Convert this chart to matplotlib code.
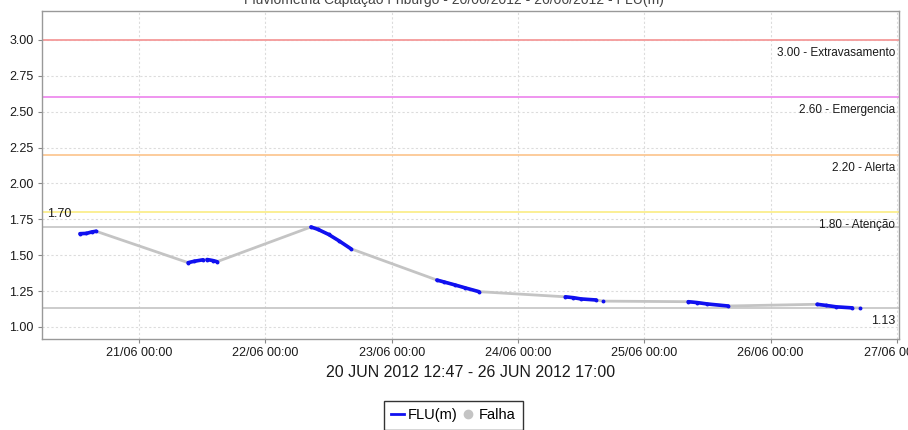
import matplotlib
matplotlib.use('Agg')
import matplotlib.dates as md
import matplotlib.pyplot as plt
import matplotlib.transforms as mtransforms
from matplotlib.lines import Line2D
import pandas as pd

# FLU(m) readings, one list per stretch of valid data
seg_times = [
    ["2012-06-20 12:47", "2012-06-20 14:00", "2012-06-20 15:00", "2012-06-20 15:50"],
    ["2012-06-21 09:20", "2012-06-21 10:30", "2012-06-21 12:10"],
    ["2012-06-21 12:55", "2012-06-21 14:00", "2012-06-21 14:50"],
    ["2012-06-22 08:40", "2012-06-22 10:00", "2012-06-22 12:00", "2012-06-22 14:00", "2012-06-22 16:15"],
    ["2012-06-23 08:35", "2012-06-23 10:00", "2012-06-23 12:00", "2012-06-23 14:00", "2012-06-23 16:35"],
    ["2012-06-24 09:00", "2012-06-24 10:30", "2012-06-24 12:00", "2012-06-24 14:50"],
    ["2012-06-24 16:10"],
    ["2012-06-25 08:20", "2012-06-25 10:00", "2012-06-25 12:00", "2012-06-25 15:55"],
    ["2012-06-26 08:50", "2012-06-26 10:30", "2012-06-26 12:30", "2012-06-26 15:30"],
    ["2012-06-26 17:00"],
]
seg_values = [
    [1.65, 1.652, 1.662, 1.667],
    [1.448, 1.458, 1.468],
    [1.47, 1.463, 1.455],
    [1.697, 1.68, 1.645, 1.60, 1.545],
    [1.327, 1.313, 1.293, 1.272, 1.246],
    [1.21, 1.204, 1.195, 1.188],
    [1.18],
    [1.176, 1.170, 1.160, 1.146],
    [1.158, 1.150, 1.140, 1.133],
    [1.132],
]

# alert levels
level_values = [3.00, 2.60, 2.20, 1.80]
level_names = ["Extravasamento", "Emergencia", "Alerta", "Atenção"]
level_colors = ["#f59a9a", "#ee8cee", "#fcc894", "#fbee8c"]
max_value = 1.70
min_value = 1.13

title = "Fluviometria Captação Friburgo - 20/06/2012 - 26/06/2012 - FLU(m)"
period = "20 JUN 2012 12:47 - 26 JUN 2012 17:00"

plt.rcParams['font.family'] = ['Liberation Sans', 'DejaVu Sans']
TXT = "#1a1a1a"

fig = plt.figure(figsize=(9.08, 4.30), dpi=100)
ax = fig.add_axes([42 / 908, 1 - 339 / 430, 857 / 908, 328 / 430])

# gray "Falha" line joins all the readings
all_t = pd.to_datetime([t for seg in seg_times for t in seg])
all_v = [v for seg in seg_values for v in seg]
ax.plot(all_t, all_v, color="#c4c4c4", linewidth=2, zorder=3)

for ts, vs in zip(seg_times, seg_values):
    ax.plot(pd.to_datetime(ts), vs, color="#1010f0", linewidth=2.6,
            marker="o", markersize=1.8, zorder=4, solid_capstyle="round")

blend = mtransforms.blended_transform_factory(ax.transAxes, ax.transData)
for val, name, col in zip(level_values, level_names, level_colors):
    ax.axhline(val, color=col, linewidth=1.3, zorder=2)
    ax.annotate(f"{val:.2f} - {name}", xy=(1, val), xycoords=blend,
                xytext=(-4, -13), textcoords="offset pixels",
                ha="right", va="center", fontsize=8.5, color=TXT)

ax.axhline(max_value, color="#c8c8c8", linewidth=1.3, zorder=2)
ax.annotate(f"{max_value:.2f}", xy=(0, max_value), xycoords=blend,
            xytext=(5, 13), textcoords="offset pixels",
            ha="left", va="center", fontsize=9, color=TXT)
ax.axhline(min_value, color="#c8c8c8", linewidth=1.3, zorder=2)
ax.annotate(f"{min_value:.2f}", xy=(1, min_value), xycoords=blend,
            xytext=(-4, -13), textcoords="offset pixels",
            ha="right", va="center", fontsize=9, color=TXT)

ax.set_ylim(0.916, 3.202)
ax.set_yticks([1.00, 1.25, 1.50, 1.75, 2.00, 2.25, 2.50, 2.75, 3.00])
ax.yaxis.set_major_formatter(plt.FormatStrFormatter("%.2f"))
ax.set_xlim(pd.Timestamp("2012-06-20 05:34"), pd.Timestamp("2012-06-27 00:23"))
ax.xaxis.set_major_locator(md.DayLocator())
ax.xaxis.set_major_formatter(md.DateFormatter("%d/%m %H:%M"))

ax.grid(True, color="#dcdcdc", linestyle=(0, (2, 2)), linewidth=0.8)
ax.set_axisbelow(True)
ax.tick_params(length=3, color="#888888", labelsize=9, labelcolor=TXT, pad=3)
for sp in ax.spines.values():
    sp.set_color("#999999")
    sp.set_linewidth(1)

ax.set_xlabel(period, fontsize=11.5, color=TXT, labelpad=4)
fig.text(0.5, 1.0, title, ha="center", va="center", fontsize=10, color="#444444")

handles = [
    Line2D([], [], color="#1010f0", linewidth=2),
    Line2D([], [], color="#c4c4c4", linestyle="none", marker="o", markersize=6),
]
leg = fig.legend(handles, ["FLU(m)", "Falha"], loc="upper center",
                 bbox_to_anchor=(453 / 908, 1 - 401 / 430), ncol=2, frameon=True,
                 fancybox=False, edgecolor="black", handlelength=0.9,
                 handletextpad=0.25, columnspacing=0.3, borderpad=0.5,
                 borderaxespad=0, prop=dict(size=10.5))
leg.get_frame().set_linewidth(1)

fig.savefig("out.png", dpi=100)
